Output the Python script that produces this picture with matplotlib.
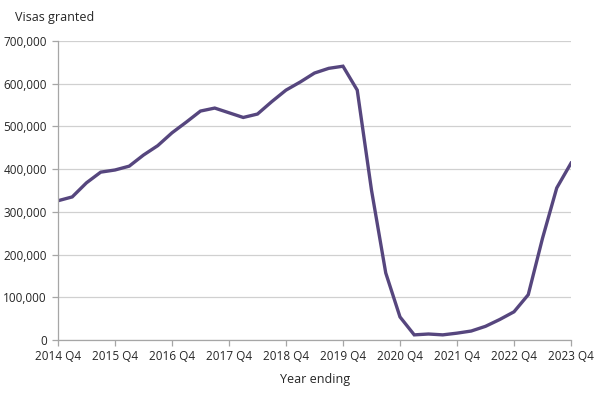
import matplotlib.pyplot as plt
from matplotlib.ticker import FuncFormatter

quarters = [f"{y} Q{q}" for y in range(2014, 2024) for q in (1, 2, 3, 4)][3:]
visas = [
    326000, 335000, 368000, 393000, 398000, 407000, 433000, 455000,
    485000, 510000, 536000, 543000, 532000, 521000, 529000, 558000,
    585000, 604000, 625000, 636000, 641000, 585000, 351000, 157000,
    54000, 12000, 14000, 12000, 16000, 21000, 32000, 48000,
    66000, 106000, 238000, 356000, 414000,
]
tick_labels = [q for q in quarters if q.endswith("Q4")]

LINE_COLOR = "#56467e"
GRID_COLOR = "#d0d0d0"
AXIS_COLOR = "#a6a6a6"
TEXT_COLOR = "#262626"

plt.rcParams["font.family"] = ["Open Sans", "DejaVu Sans"]

fig = plt.figure(figsize=(6.02, 3.97), dpi=100)
ax = fig.add_axes([0.0963, 0.1436, 0.8522, 0.7531])

x = list(range(len(quarters)))
ax.plot(x, visas, color=LINE_COLOR, linewidth=2.4, solid_joinstyle="miter")

ax.set_xlim(0, len(quarters) - 1)
ax.set_ylim(0, 700000)
ax.set_yticks(range(0, 700001, 100000))
ax.yaxis.set_major_formatter(FuncFormatter(lambda v, _: f"{int(v):,}"))
ax.set_xticks([quarters.index(t) for t in tick_labels])
ax.set_xticklabels(tick_labels)

ax.grid(axis="y", color=GRID_COLOR, linewidth=0.9)
ax.set_axisbelow(True)
for side in ("top", "right"):
    ax.spines[side].set_visible(False)
for side in ("left", "bottom"):
    ax.spines[side].set_color(AXIS_COLOR)
    ax.spines[side].set_linewidth(0.9)

ax.tick_params(axis="both", colors=AXIS_COLOR, labelcolor=TEXT_COLOR, labelsize=8.5,
               length=4, width=0.9)
ax.tick_params(axis="y", pad=4)

fig.text(0.025, 0.955, "Visas granted", fontsize=9, color=TEXT_COLOR, va="center")
fig.text(0.523, 0.043, "Year ending", fontsize=9, color=TEXT_COLOR, ha="center", va="center")

fig.savefig("out.png", dpi=100)
